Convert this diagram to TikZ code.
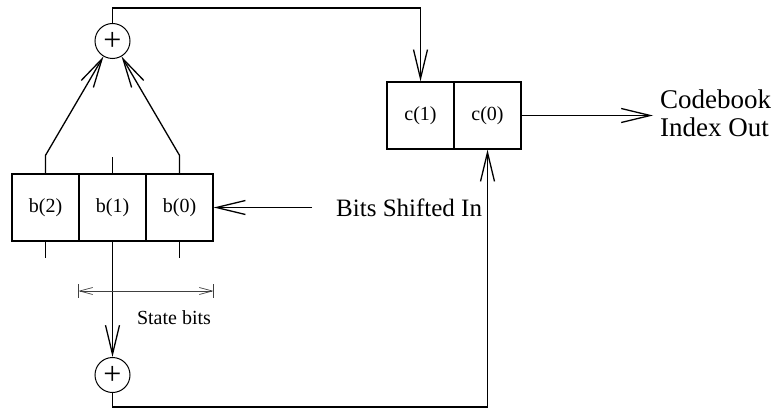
\documentclass[tikz,border=0pt]{standalone}
\usepackage{fontspec}
\setmainfont{Liberation Serif}
\usetikzlibrary{arrows.meta,calc}
\begin{document}
\begin{tikzpicture}[x=1pt,y=-1pt,
  ln/.style={line width=1.3pt},
  arr/.style={ln,-{Straight Barb[length=29pt,width=14pt,line width=1.3pt]}},
  cell/.style={draw,line width=1.3pt,minimum width=67pt,minimum height=67pt,inner sep=0pt,font=\fontsize{20}{22}\selectfont},
  adder/.style={draw,circle,line width=1pt,minimum size=35pt,inner sep=0pt,font=\fontsize{32}{32}\selectfont},
  lbl/.style={inner sep=0pt,font=\fontsize{25}{27}\selectfont},
  dimarr/.style={line width=0.7pt,draw=black!75,-{Straight Barb[length=13pt,width=7pt,line width=0.7pt]}}
]
\useasboundingbox (0,0) rectangle (783,409);
% shift register
\node[cell] (b2) at (45.5,207.5) {b(2)};
\node[cell] (b1) at (112.5,207.5) {b(1)};
\node[cell] (b0) at (179.5,207.5) {b(0)};
% codebook register
\node[cell] (c1) at (420.5,115.5) {c(1)};
\node[cell] (c0) at (487.5,115.5) {c(0)};
% adders
\node[adder] (top) at (112.5,41) {\raisebox{-0.5pt}{+}};
\node[adder] (bot) at (112.5,375) {\raisebox{-0.5pt}{+}};
% labels
\node[lbl,anchor=west] (bits) at (336,207.5) {Bits Shifted In};
\node[inner sep=0pt,anchor=west,align=left,font=\fontsize{27}{28}\selectfont] (cb) at (660,113) {Codebook\\Index Out};
\node[inner sep=0pt,font=\fontsize{20}{22}\selectfont] (sb) at (174,318) {State bits};
\coordinate (bsrc) at (312,207.5);
\coordinate (outend) at (653,115.5);
% ticks
\draw[ln] (b1.north) -- ++(0,-16);
\draw[ln] (b2.south) -- ++(0,16);
\draw[ln] (b0.south) -- ++(0,16);
% to top adder
\draw[arr] (b2.north) -- ++(0,-18) -- (top);
\draw[arr] (b0.north) -- ++(0,-18) -- (top);
% top adder to c(1)
\draw[arr] (top.north) -- (top.north |- 0,8) -| (c1.north);
% b(1) down to bottom adder
\draw[arr] (b1.south) -- (bot.north);
% bottom adder to c(0)
\draw[arr] (bot.south) -- (bot.south |- 0,407) -| (c0.south);
% output
\draw[arr] (c0.east) -- (outend);
% bits in
\draw[arr] (bsrc) -- (b0.east);
% state bits dimension
\coordinate (sl) at (b1.south west |- 0,291);
\coordinate (sr) at (b0.south east |- 0,291);
\coordinate (sm) at ($(sl)!0.5!(sr)$);
\draw[dimarr] (sm) -- (sl);
\draw[dimarr] (sm) -- (sr);
\draw[line width=0.7pt,draw=black!75] (sl) ++(0,-7) -- ++(0,14);
\draw[line width=0.7pt,draw=black!75] (sr) ++(0,-7) -- ++(0,14);
\end{tikzpicture}
\end{document}
